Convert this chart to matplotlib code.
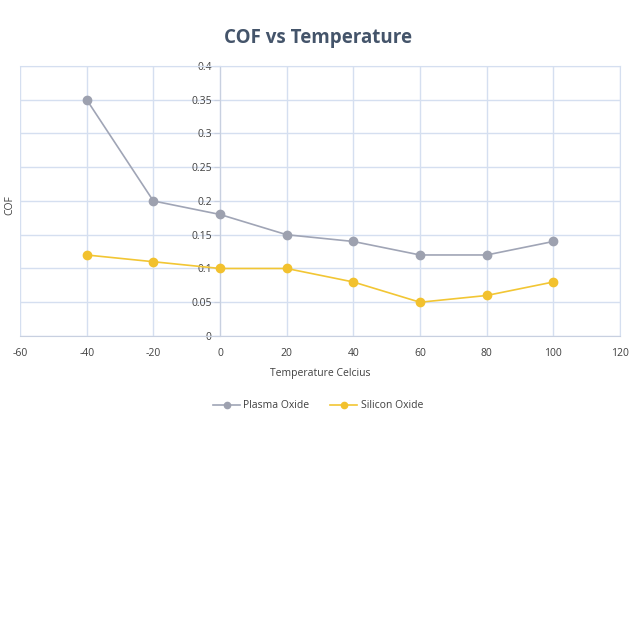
import matplotlib
matplotlib.use("Agg")
import matplotlib.pyplot as plt

temps = [-40, -20, 0, 20, 40, 60, 80, 100]
plasma = [0.35, 0.20, 0.18, 0.15, 0.14, 0.12, 0.12, 0.14]
silicon = [0.12, 0.11, 0.10, 0.10, 0.08, 0.05, 0.06, 0.08]
xticks = [-60, -40, -20, 0, 20, 40, 60, 80, 100, 120]
yticks = [0, 0.05, 0.1, 0.15, 0.2, 0.25, 0.3, 0.35, 0.4]
ytick_labels = ["0", "0.05", "0.1", "0.15", "0.2", "0.25", "0.3", "0.35", "0.4"]

plt.rcParams['font.family'] = ['Open Sans', 'DejaVu Sans']

fig = plt.figure(figsize=(6.4, 6.4), dpi=100)
ax = fig.add_axes([0.03125, 0.475, 0.9375, 0.422])

grid_c = "#D5DFF0"
text_c = "#404040"

ax.plot(temps, plasma, color="#A0A5B6", lw=1.2, marker="o", ms=6,
        markerfacecolor="#9DA1AF", markeredgecolor="#9DA1AF", label="Plasma Oxide", zorder=3)
ax.plot(temps, silicon, color="#F2C634", lw=1.2, marker="o", ms=6,
        markerfacecolor="#F2C12E", markeredgecolor="#F2C12E", label="Silicon Oxide", zorder=3)

ax.set_xlim(-60, 120)
ax.set_ylim(0, 0.4)
ax.set_xticks(xticks)
ax.set_xticklabels([str(t) for t in xticks])
ax.set_yticks(yticks)
ax.set_yticklabels(ytick_labels)
ax.grid(True, color=grid_c, lw=1.0, zorder=0)
ax.set_axisbelow(True)

for s in ["top", "right"]:
    ax.spines[s].set_color(grid_c)
ax.spines["bottom"].set_color("#C8D0E0")
ax.spines["left"].set_position(("data", 0))
ax.spines["left"].set_color("#C8D0E0")

ax.tick_params(axis="both", colors=text_c, labelsize=7.5, length=0, pad=4)
ax.tick_params(axis="y", length=4, color="#C8D0E0", pad=2)
ax.tick_params(axis="x", pad=9)

ax.set_xlabel("Temperature Celcius", fontsize=7.5, color=text_c, labelpad=6)
fig.text(10 / 640, 1 - 205 / 640, "COF", rotation=90, ha="center", va="center",
         fontsize=7.5, color=text_c)

fig.text(0.497, 1 - 38 / 640, "COF vs Temperature", ha="center", va="center",
         fontsize=13.5, fontweight="bold", color="#44546A")

leg = fig.legend(loc="center", bbox_to_anchor=(0.497, 1 - 406 / 640), ncol=2,
                 frameon=False, fontsize=7.5, handlelength=2.6, columnspacing=2.0,
                 handletextpad=0.3, markerscale=0.75)
for t in leg.get_texts():
    t.set_color(text_c)

fig.savefig("out.png", dpi=100, facecolor="white")
